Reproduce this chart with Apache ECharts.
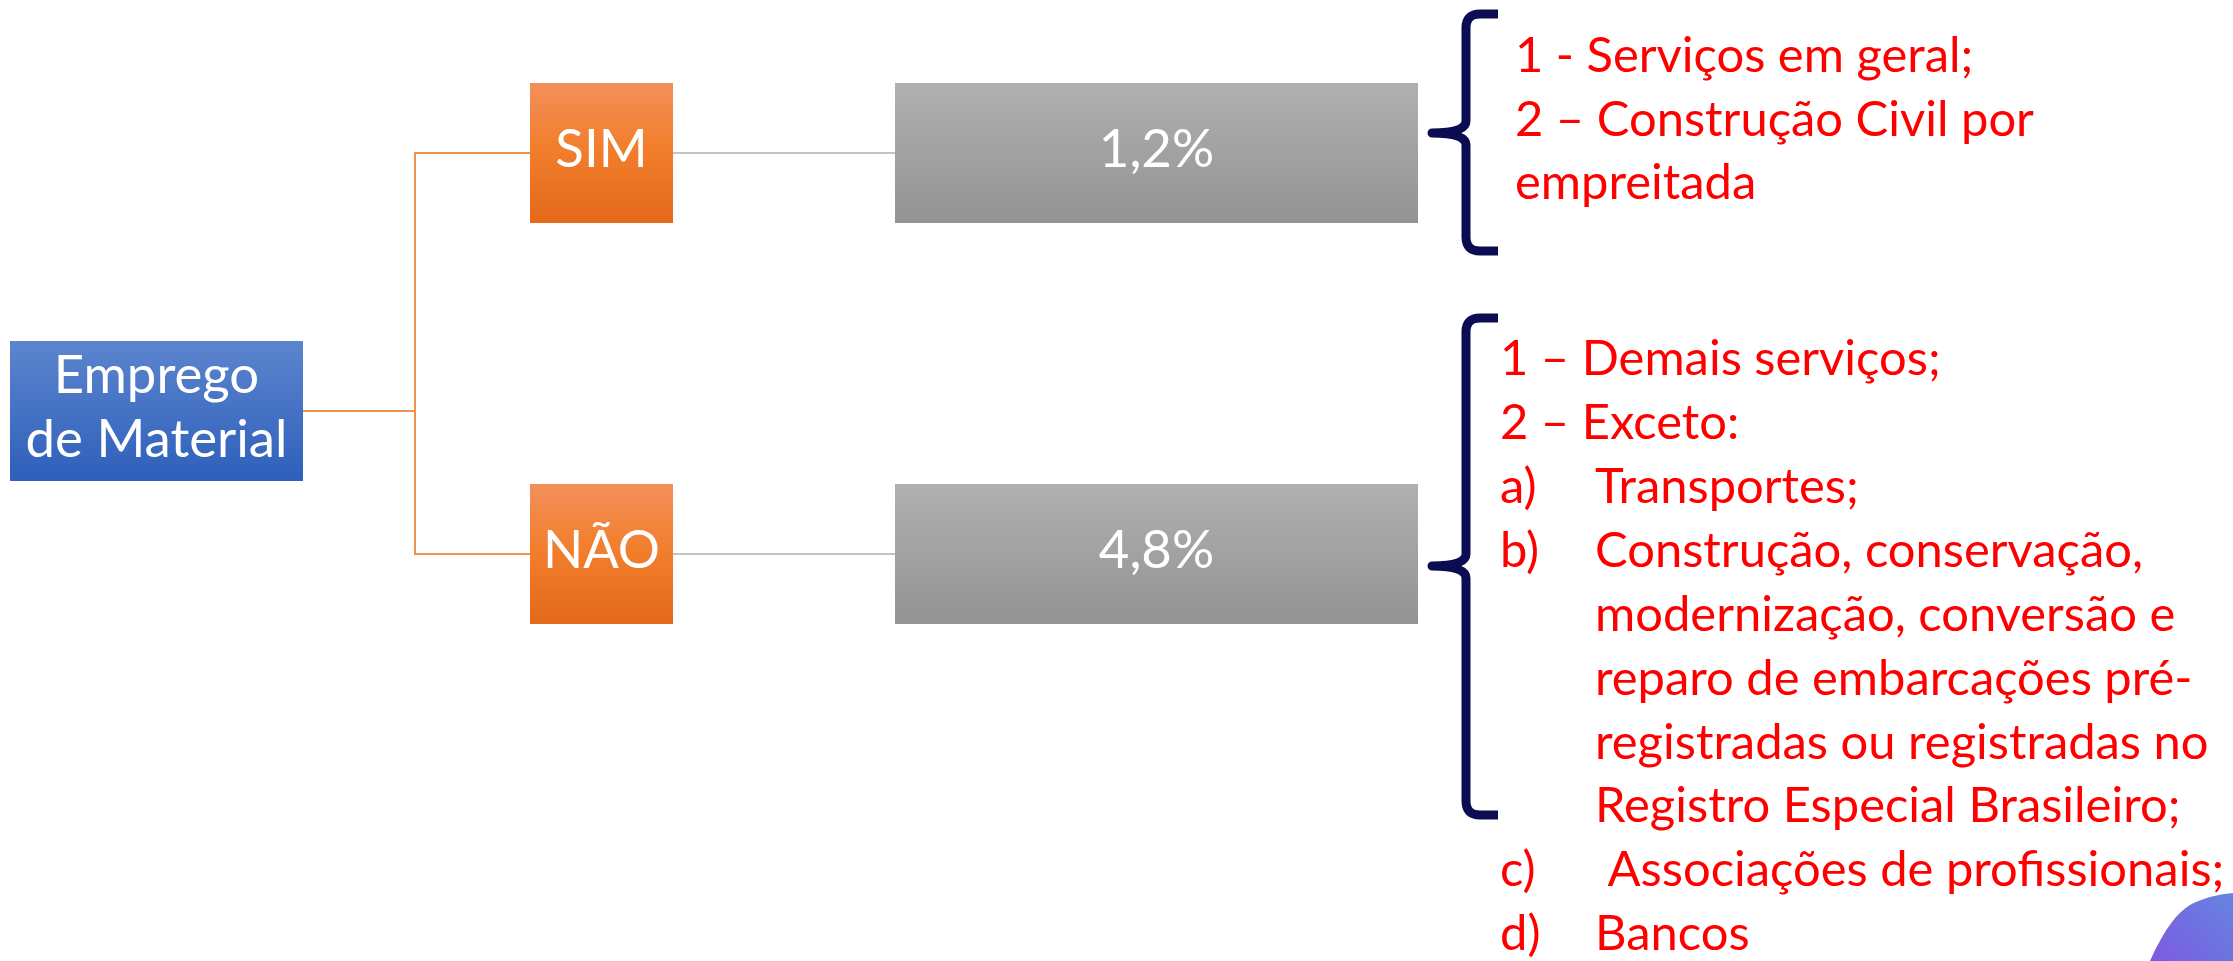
<!DOCTYPE html>
<html><head><meta charset="utf-8">
<script src="https://cdn.jsdelivr.net/npm/echarts@6/dist/echarts.min.js"></script>
<style>html,body{margin:0;padding:0;background:#fff;overflow:hidden}#c{width:2233px;height:961px}</style>
</head><body><div id="c"></div>
<script>
// ---------------- data ----------------
const rootLabel = ['Emprego', 'de Material'];
const branchLabels = ['SIM', 'NÃO'];
const rateLabels = ['1,2%', '4,8%'];
const simNotes = ['1 - Serviços em geral;', '2 – Construção Civil por', 'empreitada'];
const naoMarkers = [null, null, 'a)', 'b)', '', '', '', '', 'c)', 'd)'];
const naoNotes = ['1 – Demais serviços;', '2 – Exceto:', 'Transportes;', 'Construção, conservação,',
  'modernização, conversão e', 'reparo de embarcações pré-', 'registradas ou registradas no',
  'Registro Especial Brasileiro;', ' Associações de profissionais;', 'Bancos'];

// ---------------- layout / style ----------------
const W = 2233, H = 961;
const FONT = 'Lato';
const COLS = [[10, 303], [530, 673], [895, 1418]];   // x-extent of each tree level
const ROOT_CY = 411, ROW_CY = [153, 554], BOX_H = 140, BUS_X = 415;
const BRACE = { tip: 1432, stem: 1466, arm: 1498, rows: [[14, 251, 133], [318, 815, 566]] };
const NOTE_POS = [{ x: 1515, base: 75, step: 63.5 }, { x: 1500, indent: 1595, base: 378, step: 63.9 }];
const BLOB = [[2150, 961], [2162, 935, 2176, 910, 2196, 902], [2210, 896, 2222, 894, 2233, 893], [2233, 961]];

const mctx = document.createElement('canvas').getContext('2d');
function fit(pairs) {
  mctx.font = '100px ' + FONT;
  let s = 0;
  pairs.forEach(([t, w]) => { s += 100 * w / mctx.measureText(t).width; });
  return s / pairs.length;
}
const noteSize = fit([['registradas ou registradas no', 623], ['Registro Especial Brasileiro;', 587],
  ['1 - Serviços em geral;', 455], ['1 – Demais serviços;', 435]]);
const boxSize = fit([['de Material', 268], ['Emprego', 208], ['1,2%', 111]]);
const MID = 0.38; // canvas "middle" offset above baseline, in em

const grad = (stops, x, y, x2, y2) => ({ type: 'linear', x, y, x2, y2,
  colorStops: stops.map(c => ({ offset: c[0], color: c[1] })) });
const blueFill = () => grad([[0, '#5c85ce'], [1, '#2e5fba']], 0, 0, 0, 1);
const orangeFill = () => grad([[0, '#f28f59'], [0.45, '#f27f2e'], [1, '#e36919']], 0, 0, 0, 1);
const grayFill = () => grad([[0, '#b0b0b0'], [1, '#939393']], 0, 0, 0, 1);

// nodes of the tree
const nodes = [{ lines: rootLabel, col: 0, cy: ROOT_CY, fill: blueFill, base: [396, 460] }];
branchLabels.forEach((t, i) => nodes.push({ lines: [t], col: 1, cy: ROW_CY[i], fill: orangeFill }));
rateLabels.forEach((t, i) => nodes.push({ lines: [t], col: 2, cy: ROW_CY[i], fill: grayFill }));

// edges
const edges = [];
branchLabels.forEach((t, i) => edges.push({ from: 0, to: 1 + i, kind: 'elbow' }));
rateLabels.forEach((t, i) => edges.push({ from: 1 + i, to: 1 + branchLabels.length + i, kind: 'straight' }));

// note lines
const noteLines = [];
simNotes.forEach((t, i) => noteLines.push({ g: 0, i, marker: null, text: t }));
naoNotes.forEach((t, i) => noteLines.push({ g: 1, i, marker: naoMarkers[i], text: t }));

const chart = echarts.init(document.getElementById('c'), null, { renderer: 'canvas' });

function renderNode(params, api) {
  const n = nodes[params.dataIndex];
  const [x0, x1] = COLS[n.col];
  const p0 = api.coord([x0, n.cy - BOX_H / 2]);
  const p1 = api.coord([x1, n.cy + BOX_H / 2]);
  const cx = (p0[0] + p1[0]) / 2;
  const children = [{
    type: 'rect', shape: { x: p0[0], y: p0[1], width: p1[0] - p0[0], height: p1[1] - p0[1] },
    style: { fill: n.fill() }
  }];
  n.lines.forEach((t, k) => {
    const base = n.base ? n.base[k] : n.cy + 17;
    const pb = api.coord([0, base]);
    children.push({
      type: 'text',
      style: { text: t, x: cx, y: pb[1] - MID * boxSize, fill: '#ffffff',
        font: boxSize.toFixed(1) + 'px ' + FONT, align: 'center', verticalAlign: 'middle' }
    });
  });
  return { type: 'group', children };
}

function renderEdge(params, api) {
  const e = edges[params.dataIndex];
  const a = nodes[e.from], b = nodes[e.to];
  let pts;
  if (e.kind === 'elbow') {
    pts = [[COLS[a.col][1], a.cy], [BUS_X, a.cy], [BUS_X, b.cy], [COLS[b.col][0], b.cy]];
  } else {
    pts = [[COLS[a.col][1], a.cy], [COLS[b.col][0], b.cy]];
  }
  return {
    type: 'polyline', shape: { points: pts.map(p => api.coord(p)) },
    style: { stroke: e.kind === 'elbow' ? '#f0914f' : '#c3c3c3', lineWidth: 2, fill: null }
  };
}

function renderBrace(params, api) {
  const [top, bottom, tip] = BRACE.rows[params.dataIndex];
  const X = v => api.coord([v, 0])[0], Y = v => api.coord([0, v])[1];
  const r = 14, r2 = 12;
  const d = [
    'M', X(BRACE.arm), Y(top), 'L', X(BRACE.stem + r), Y(top),
    'Q', X(BRACE.stem), Y(top), X(BRACE.stem), Y(top + r),
    'L', X(BRACE.stem), Y(tip - r2),
    'Q', X(BRACE.stem), Y(tip), X(BRACE.tip), Y(tip),
    'Q', X(BRACE.stem), Y(tip), X(BRACE.stem), Y(tip + r2),
    'L', X(BRACE.stem), Y(bottom - r),
    'Q', X(BRACE.stem), Y(bottom), X(BRACE.stem + r), Y(bottom),
    'L', X(BRACE.arm), Y(bottom)
  ].join(' ');
  return {
    type: 'path', shape: { pathData: d },
    style: { stroke: '#0c0c52', lineWidth: 9, fill: null, lineJoin: 'round', lineCap: 'butt' }
  };
}

function renderBlob(params, api) {
  const P = (x, y) => api.coord([x, y]).join(' ');
  const d = 'M ' + P(BLOB[0][0], BLOB[0][1]) +
    ' C ' + P(BLOB[1][0], BLOB[1][1]) + ' ' + P(BLOB[1][2], BLOB[1][3]) + ' ' + P(BLOB[1][4], BLOB[1][5]) +
    ' C ' + P(BLOB[2][0], BLOB[2][1]) + ' ' + P(BLOB[2][2], BLOB[2][3]) + ' ' + P(BLOB[2][4], BLOB[2][5]) +
    ' L ' + P(BLOB[3][0], BLOB[3][1]) + ' Z';
  return { type: 'path', shape: { pathData: d },
    style: { fill: grad([[0, '#7d5ae0'], [1, '#6584e0']], 0, 1, 1, 0) } };
}

function renderNote(params, api) {
  const l = noteLines[params.dataIndex];
  const pos = NOTE_POS[l.g];
  const base = pos.base + l.i * pos.step;
  const y = api.coord([0, base])[1] - MID * noteSize;
  const font = noteSize.toFixed(1) + 'px ' + FONT;
  const children = [];
  const mk = (text, x) => ({ type: 'text', style: { text, x: api.coord([x, 0])[0], y, fill: '#ff0000', font, align: 'left', verticalAlign: 'middle' } });
  if (l.marker === null) {
    children.push(mk(l.text, pos.x));
  } else {
    if (l.marker) children.push(mk(l.marker, pos.x));
    children.push(mk(l.text, pos.indent));
  }
  return { type: 'group', children };
}

chart.setOption({
  animation: false,
  backgroundColor: '#ffffff',
  grid: { left: 0, right: 0, top: 0, bottom: 0 },
  xAxis: { type: 'value', min: 0, max: W, show: false },
  yAxis: { type: 'value', min: 0, max: H, inverse: true, show: false },
  series: [
    { type: 'custom', name: 'blob', renderItem: renderBlob, data: [[0]], z: 0, silent: true },
    { type: 'custom', name: 'edges', renderItem: renderEdge, data: edges.map((e, i) => [i]), z: 1, silent: true },
    { type: 'custom', name: 'nodes', renderItem: renderNode, data: nodes.map((n, i) => [i]), z: 2, silent: true },
    { type: 'custom', name: 'braces', renderItem: renderBrace, data: BRACE.rows.map((b, i) => [i]), z: 2, silent: true },
    { type: 'custom', name: 'notes', renderItem: renderNote, data: noteLines.map((l, i) => [i]), z: 3, silent: true }
  ]
});
</script></body></html>
